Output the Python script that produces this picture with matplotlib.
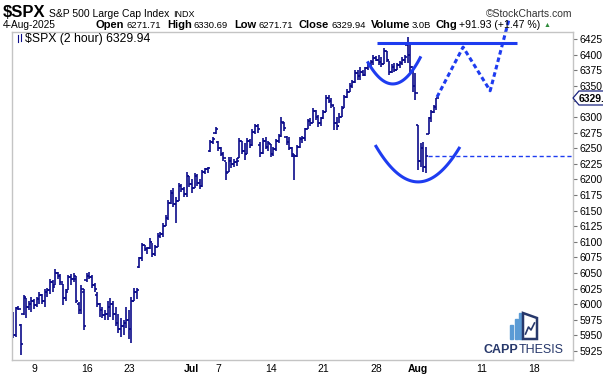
import numpy as np
import pandas as pd
import matplotlib
matplotlib.use("Agg")
import matplotlib.pyplot as plt
from matplotlib.patches import Polygon, Rectangle
from matplotlib.lines import Line2D

plt.rcParams['font.family'] = ['Liberation Sans', 'DejaVu Sans']

# 2-hour OHLC bars, Jun 5 - Aug 4 2025
opens = [5985, 5950, 5994, 5966, 5985, 6010, 5995, 6000, 6005, 5998,
         6008, 6015, 6005, 6020, 6022, 6036, 6030, 6050, 6046, 6032,
         6010, 6022, 6044, 6040, 6040, 6000, 5990, 6020, 6038, 6046,
         6044, 6030, 6015, 6000, 5990, 5982, 5985, 5995, 6000, 5985,
         5970, 5960, 5965, 5970, 5975, 5960, 6005, 6020, 6060, 6074,
         6095, 6088, 6090, 6100, 6080, 6092, 6110, 6112, 6126, 6138,
         6162, 6178, 6160, 6165, 6190, 6184, 6176, 6205, 6192, 6186,
         6205, 6194, 6190, 6212, 6216, 6246, 6260, 6274, 6260, 6250,
         6240, 6230, 6212, 6230, 6224, 6228, 6235, 6262, 6245, 6240,
         6262, 6255, 6276, 6285, 6255, 6242, 6262, 6252, 6256, 6240,
         6248, 6262, 6270, 6290, 6268, 6260, 6250, 6238, 6238, 6252,
         6264, 6266, 6280, 6294, 6290, 6310, 6300, 6290, 6298, 6308,
         6330, 6326, 6318, 6290, 6285, 6300, 6314, 6332, 6340, 6350,
         6356, 6370, 6365, 6372, 6368, 6378, 6385, 6388, 6395, 6392,
         6388, 6385, 6405, 6392, 6372, 6380, 6376, 6384, 6386, 6392,
         6415, 6400, 6380, 6350, 6287, 6230, 6250, 6220, 6272, 6298,
         6308, 6316]
highs = [5988, 5996, 5997, 5968, 6015, 6010, 6005, 6011, 6008, 6012,
         6020, 6016, 6024, 6026, 6040, 6038, 6056, 6052, 6048, 6032,
         6025, 6047, 6048, 6050, 6046, 6003, 6030, 6025, 6050, 6052,
         6047, 6034, 6020, 6002, 5995, 5990, 6005, 6010, 6005, 5995,
         5985, 5978, 5975, 5995, 5990, 6011, 6026, 6026, 6076, 6098,
         6095, 6092, 6106, 6098, 6095, 6114, 6116, 6130, 6143, 6167,
         6183, 6186, 6172, 6194, 6192, 6188, 6212, 6206, 6200, 6210,
         6208, 6200, 6215, 6218, 6220, 6263, 6268, 6284, 6262, 6252,
         6244, 6228, 6236, 6236, 6232, 6235, 6266, 6262, 6258, 6266,
         6264, 6280, 6289, 6288, 6260, 6266, 6268, 6262, 6256, 6252,
         6264, 6272, 6300, 6292, 6270, 6268, 6252, 6240, 6255, 6268,
         6270, 6282, 6296, 6298, 6314, 6311, 6303, 6300, 6311, 6335,
         6336, 6330, 6316, 6300, 6306, 6318, 6335, 6345, 6354, 6360,
         6375, 6376, 6380, 6375, 6380, 6388, 6391, 6399, 6398, 6400,
         6396, 6411, 6405, 6390, 6385, 6386, 6387, 6390, 6396, 6400,
         6428, 6418, 6378, 6370, 6287, 6258, 6260, 6252, 6300, 6312,
         6320, 6331]
lows = [5946, 5947, 5990, 5919, 5983, 5978, 5990, 5987, 5992, 5995,
        6000, 6000, 5996, 6012, 6016, 6020, 6030, 6040, 6030, 5999,
        6005, 6022, 6030, 6035, 6002, 5985, 5985, 5959, 6035, 6040,
        6026, 6020, 5995, 5980, 5978, 5975, 5975, 5980, 5975, 5965,
        5954, 5948, 5950, 5962, 5945, 5938, 6005, 6008, 6058, 6070,
        6085, 6080, 6088, 6076, 6078, 6092, 6106, 6108, 6126, 6135,
        6160, 6156, 6130, 6165, 6180, 6172, 6172, 6188, 6178, 6186,
        6190, 6185, 6188, 6208, 6210, 6244, 6256, 6272, 6245, 6238,
        6230, 6199, 6212, 6218, 6220, 6222, 6235, 6240, 6231, 6240,
        6250, 6254, 6272, 6274, 6236, 6240, 6248, 6245, 6236, 6238,
        6246, 6258, 6268, 6278, 6255, 6247, 6236, 6199, 6236, 6250,
        6258, 6262, 6280, 6286, 6290, 6295, 6284, 6286, 6296, 6308,
        6322, 6314, 6279, 6279, 6290, 6300, 6314, 6330, 6340, 6346,
        6355, 6360, 6360, 6365, 6366, 6376, 6382, 6383, 6390, 6384,
        6380, 6385, 6388, 6367, 6370, 6372, 6376, 6379, 6384, 6387,
        6387, 6372, 6340, 6327, 6215, 6220, 6212, 6210, 6272, 6292,
        6306, 6312]
closes = [5950, 5994, 5993, 5936, 6012, 5995, 6000, 6005, 5998, 6008,
          6015, 6005, 6020, 6022, 6036, 6028, 6050, 6046, 6035, 6010,
          6020, 6044, 6040, 6046, 6005, 5990, 6025, 5965, 6046, 6044,
          6030, 6025, 6000, 5990, 5982, 5985, 5995, 6000, 5985, 5970,
          5960, 5965, 5970, 5975, 5960, 6005, 6020, 6022, 6074, 6095,
          6088, 6090, 6100, 6080, 6092, 6110, 6112, 6126, 6138, 6162,
          6178, 6160, 6165, 6190, 6184, 6176, 6205, 6192, 6186, 6205,
          6194, 6190, 6212, 6216, 6218, 6260, 6265, 6280, 6250, 6240,
          6234, 6210, 6230, 6224, 6228, 6230, 6262, 6245, 6240, 6262,
          6255, 6276, 6285, 6280, 6242, 6262, 6252, 6258, 6240, 6248,
          6262, 6270, 6292, 6282, 6260, 6250, 6240, 6238, 6252, 6264,
          6266, 6280, 6294, 6290, 6310, 6300, 6290, 6298, 6308, 6330,
          6326, 6320, 6290, 6285, 6300, 6314, 6332, 6340, 6350, 6356,
          6370, 6365, 6372, 6368, 6378, 6385, 6388, 6395, 6392, 6388,
          6385, 6405, 6392, 6372, 6380, 6376, 6384, 6386, 6392, 6396,
          6400, 6380, 6350, 6339, 6230, 6250, 6220, 6238, 6298, 6308,
          6316, 6329.94]

holidays = ['2025-06-19', '2025-07-04']
half_days = ['2025-07-03']
tick_dates = ['2025-06-09', '2025-06-16', '2025-06-23', '2025-07-01', '2025-07-07',
              '2025-07-14', '2025-07-21', '2025-07-28', '2025-08-01', '2025-08-11',
              '2025-08-18']
tick_labels = ['9', '16', '23', 'Jul', '7', '14', '21', '28', 'Aug', '11', '18']

# hand-drawn annotations: (bar index, price)
resistance = [(138.4, 6419), (191.6, 6419)]
small_cup = [(135.0, 6387), (144.1, 6353), (154.8, 6395)]
big_cup = [(138.0, 6253), (154.0, 6196), (169.6, 6250)]
projection = [(161.2, 6332), (171.1, 6412), (181.4, 6342), (188.6, 6457)]
support = 6238          # Aug 1 close
support_from = 157.9    # starts right after the Aug 1 close

navy = '#0c0c8a'
blue = '#1e3cf0'

days = [d for d in pd.bdate_range('2025-06-05', '2025-08-22')
        if d.strftime('%Y-%m-%d') not in holidays]
bars_per_day = [2 if d.strftime('%Y-%m-%d') in half_days else 4 for d in days]
day_start = np.concatenate([[0], np.cumsum(bars_per_day)[:-1]])
tick_pos = [day_start[days.index(pd.Timestamp(t))] for t in tick_dates]

W, H = 603, 376
fig = plt.figure(figsize=(W / 100, H / 100), dpi=100)
fx = lambda px: px / W
fy = lambda py: 1 - py / H

ax = fig.add_axes([fx(12), fy(360), (573 - 12) / W, (360 - 32) / H])

x = np.arange(len(closes))
ax.vlines(x, lows, highs, color=navy, lw=1.2)
ax.hlines(opens, x - 0.85, x, color=navy, lw=1.2)
ax.hlines(closes, x, x + 0.85, color=navy, lw=1.2)

ax.set_xlim(-0.4, 212.9)
ax.set_ylim(5910.6, 6436.2)

# annotations
rx, ry = zip(*resistance)
ax.plot(rx, ry, color=blue, lw=2.2, solid_capstyle='butt')
for cup in (small_cup, big_cup):
    cx, cy = zip(*cup)
    coef = np.polyfit(cx, cy, 2)
    xs = np.linspace(cx[0], cx[-1], 60)
    ax.plot(xs, np.polyval(coef, xs), color=blue, lw=2.2)
px_, py_ = zip(*projection)
ax.plot(px_, py_, color=blue, lw=2.2, dashes=(1.5, 1.0), clip_on=False)
ax.plot([support_from, 212.9], [support, support], color=blue, lw=1.0, dashes=(3, 2))

# axes styling
for s in ax.spines.values():
    s.set_color('#c4c4c4')
    s.set_linewidth(1.0)
ax.yaxis.tick_right()
yt = np.arange(5925, 6426, 25)
ax.set_yticks(yt)
# the 6325 label sits under the last-price tag
ax.set_yticklabels(['' if v == 6325 else str(v) for v in yt])
ax.tick_params(axis='y', length=3, width=0.8, color='#777777', labelsize=7.5, pad=1.5)
ax.set_xticks(tick_pos)
ax.set_xticklabels(tick_labels)
ax.tick_params(axis='x', length=0, labelsize=7.5, pad=3)
for lab in ax.get_xticklabels():
    if lab.get_text() in ('Jul', 'Aug'):
        lab.set_fontweight('bold')

# last price tag (runs off the right edge, as in the original)
tag = Polygon([(fx(573), fy(98)), (fx(579), fy(91)), (fx(610), fy(91)),
               (fx(610), fy(105)), (fx(579), fy(105))], closed=True,
              transform=fig.transFigure, facecolor='white', edgecolor='#1a237e',
              lw=0.9, zorder=10)
fig.patches.append(tag)
fig.text(fx(579), fy(98.5), f'{closes[-1]:.2f}', fontsize=7.5, fontweight='bold',
         va='center', ha='left', zorder=11)

# legend label inside chart
fig.lines.append(Line2D([fx(18), fx(18)], [fy(35), fy(42)], color=navy, lw=0.8,
                        transform=fig.transFigure))
fig.lines.append(Line2D([fx(21), fx(21)], [fy(34), fy(41)], color=navy, lw=0.8,
                        transform=fig.transFigure))
fig.text(fx(25), fy(39), f'$SPX (2 hour) {closes[-1]:.2f}', fontsize=8.8, va='center')

# header
renderer = fig.canvas.get_renderer()


def seq(parts, x0, y):
    cur = x0
    for txt, weight, size, gap, col in parts:
        t = fig.text(fx(cur), fy(y), txt, fontsize=size, fontweight=weight,
                     va='baseline', ha='left', color=col)
        cur += t.get_window_extent(renderer).width + gap
    return cur


seq([('$SPX', 'bold', 12, 3, 'black'),
     ('S&P 500 Large Cap Index', 'normal', 7.5, 4, 'black'),
     ('INDX', 'normal', 6.5, 0, 'black')], 3, 17)
fig.text(fx(572), fy(17), '\u00a9StockCharts.com', fontsize=7.5, ha='right',
         va='baseline', color='#333333')

seq([('4-Aug-2025', 'normal', 7.3, 0, 'black')], 3, 28)
end = seq([('Open', 'bold', 8, 2, 'black'), ('6271.71', 'normal', 6.8, 6, 'black'),
           ('High', 'bold', 8, 2, 'black'), ('6330.69', 'normal', 6.8, 6, 'black'),
           ('Low', 'bold', 8, 2, 'black'), ('6271.71', 'normal', 6.8, 6, 'black'),
           ('Close', 'bold', 8, 2, 'black'), ('6329.94', 'normal', 6.8, 5, 'black'),
           ('Volume', 'bold', 8, 2, 'black'), ('3.0B', 'normal', 6.8, 4, 'black'),
           ('Chg', 'bold', 8, 2, 'black'), ('+91.93 (+1.47 %)', 'normal', 7.6, 3, 'black')],
          96, 28)
fig.text(fx(end), fy(27), '\u25b2', fontsize=5, color='#2e8b3a', va='baseline')

# watermark logo
logo_blue = '#5b9bd5'
logo_navy = '#27386b'
for bx, top in ((510, 325), (514.5, 319), (519, 313)):
    fig.patches.append(Rectangle((fx(bx), fy(339)), 3.2 / W, (339 - top) / H,
                                 transform=fig.transFigure, color=logo_blue))
fig.patches.append(Polygon([(fx(523), fy(313)), (fx(537), fy(318)), (fx(537), fy(339)),
                            (fx(523), fy(339))], closed=True, fill=False,
                           edgecolor=logo_navy, lw=1.8, transform=fig.transFigure))
fig.lines.append(Line2D([fx(525.5), fx(528.5), fx(531), fx(534.5)],
                        [fy(334), fy(327), fy(330), fy(323)], color=logo_navy,
                        lw=1.2, transform=fig.transFigure))
e = seq([('CAPP', 'bold', 9, 0, logo_navy)], 484, 353)
seq([('THESIS', 'normal', 9, 0, logo_navy)], e, 353)

fig.savefig('out.png', dpi=100)
